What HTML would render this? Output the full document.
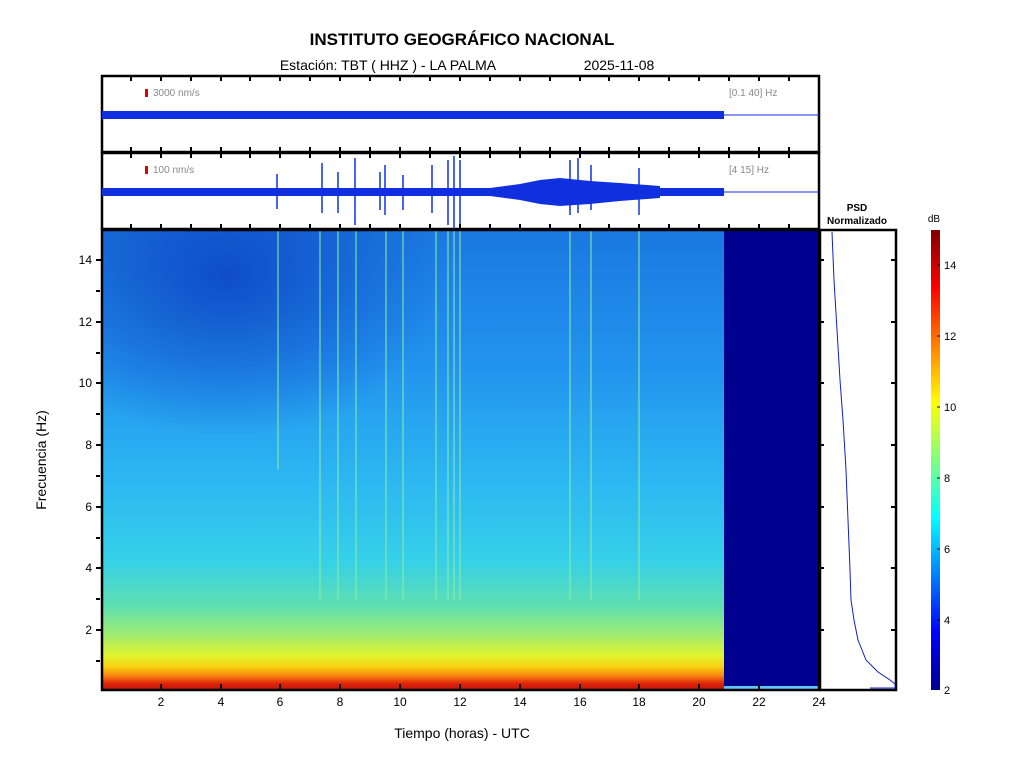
<!DOCTYPE html>
<html><head><meta charset="utf-8"><style>
html,body{margin:0;padding:0;background:#fff;}
svg{display:block;font-family:"Liberation Sans",sans-serif;}
</style></head><body>
<svg width="1024" height="768" viewBox="0 0 1024 768" xmlns="http://www.w3.org/2000/svg">
<defs>
<linearGradient id="sg" x1="0" y1="0" x2="0" y2="1">
<stop offset="0" stop-color="#1a78e0"/>
<stop offset="0.3" stop-color="#2294ee"/>
<stop offset="0.55" stop-color="#2cb8f2"/>
<stop offset="0.72" stop-color="#36d0e8"/>
<stop offset="0.82" stop-color="#60e0b0"/>
<stop offset="0.88" stop-color="#a0ec70"/>
<stop offset="0.925" stop-color="#e0f430"/>
<stop offset="0.95" stop-color="#f8d010"/>
<stop offset="0.97" stop-color="#f88010"/>
<stop offset="0.985" stop-color="#e02808"/>
<stop offset="1" stop-color="#c01010"/>
</linearGradient>
<radialGradient id="dk" cx="0.2" cy="0.1" r="0.35">
<stop offset="0" stop-color="#0c40c0" stop-opacity="0.8"/>
<stop offset="1" stop-color="#0c40c0" stop-opacity="0"/>
</radialGradient>
<linearGradient id="cb" x1="0" y1="1" x2="0" y2="0">
<stop offset="0" stop-color="#00008f"/>
<stop offset="0.125" stop-color="#0000ff"/>
<stop offset="0.375" stop-color="#00ffff"/>
<stop offset="0.625" stop-color="#ffff00"/>
<stop offset="0.875" stop-color="#ff0000"/>
<stop offset="1" stop-color="#800000"/>
</linearGradient>
</defs>

<text x="462" y="45" font-size="17" font-weight="bold" text-anchor="middle">INSTITUTO GEOGRÁFICO NACIONAL</text>
<text x="388" y="70" font-size="14" text-anchor="middle">Estación:  TBT ( HHZ ) - LA PALMA</text>
<text x="619" y="70" font-size="14" text-anchor="middle">2025-11-08</text>

<!-- panel 1 -->
<rect x="102" y="76" width="717" height="76" fill="#fff" stroke="#000" stroke-width="2.5"/>
<rect x="145" y="89" width="3" height="8" fill="#e00000"/>
<text x="153" y="96" font-size="10" fill="#888">3000 nm/s</text>
<text x="729" y="96" font-size="10" fill="#888">[0.1 40] Hz</text>
<rect x="102" y="111" width="622" height="8" fill="#1030e0"/>
<line x1="724" y1="115" x2="819" y2="115" stroke="#1030e0" stroke-width="1"/>

<!-- panel 2 -->
<rect x="102" y="153" width="717" height="76" fill="#fff" stroke="#000" stroke-width="2.5"/>
<rect x="145" y="166" width="3" height="8" fill="#e00000"/>
<text x="153" y="173" font-size="10" fill="#888">100 nm/s</text>
<text x="729" y="173" font-size="10" fill="#888">[4 15] Hz</text>
<rect x="102" y="188" width="622" height="8" fill="#1030e0"/>
<polygon points="490,188 520,184 540,180 560,178 590,181 620,183 660,186 660,198 620,201 590,204 560,206 540,204 520,200 490,196" fill="#1030e0"/>
<line x1="724" y1="192" x2="819" y2="192" stroke="#1030e0" stroke-width="1"/>
<g stroke="#1030e0" stroke-width="1.5">
<line x1="277" y1="174" x2="277" y2="209"/>
<line x1="322" y1="163" x2="322" y2="213"/>
<line x1="338" y1="172" x2="338" y2="213"/>
<line x1="355" y1="158" x2="355" y2="225"/>
<line x1="380" y1="172" x2="380" y2="210"/>
<line x1="385" y1="165" x2="385" y2="215"/>
<line x1="403" y1="175" x2="403" y2="210"/>
<line x1="432" y1="165" x2="432" y2="213"/>
<line x1="448" y1="160" x2="448" y2="225"/>
<line x1="454" y1="156" x2="454" y2="229"/>
<line x1="460" y1="160" x2="460" y2="225"/>
<line x1="570" y1="160" x2="570" y2="215"/>
<line x1="578" y1="158" x2="578" y2="213"/>
<line x1="591" y1="165" x2="591" y2="210"/>
<line x1="639" y1="168" x2="639" y2="215"/>
</g>

<!-- spectrogram -->
<rect x="102" y="230" width="622" height="460" fill="url(#sg)"/>
<rect x="102" y="230" width="622" height="460" fill="url(#dk)"/>
<g stroke="#90f0a0" stroke-width="2" opacity="0.5">
<line x1="278" y1="230" x2="278" y2="470"/>
<line x1="320" y1="230" x2="320" y2="600"/>
<line x1="338" y1="230" x2="338" y2="600"/>
<line x1="356" y1="230" x2="356" y2="600"/>
<line x1="386" y1="230" x2="386" y2="600"/>
<line x1="403" y1="230" x2="403" y2="600"/>
<line x1="436" y1="230" x2="436" y2="600"/>
<line x1="448" y1="230" x2="448" y2="600"/>
<line x1="454" y1="230" x2="454" y2="600"/>
<line x1="460" y1="230" x2="460" y2="600"/>
<line x1="570" y1="230" x2="570" y2="600"/>
<line x1="591" y1="230" x2="591" y2="600"/>
<line x1="639" y1="230" x2="639" y2="600"/>
</g>
<rect x="724" y="230" width="95" height="460" fill="#00008f"/>
<rect x="724" y="686" width="95" height="3" fill="#60c8ff"/>
<rect x="102" y="230" width="717" height="460" fill="none" stroke="#000" stroke-width="2.5"/>

<!-- ticks -->
<g stroke="#000" stroke-width="2">
<path d="M131,76v5M161,76v5M191,76v5M221,76v5M250,76v5M280,76v5M310,76v5M340,76v5M370,76v5M400,76v5M430,76v5M460,76v5M490,76v5M520,76v5M550,76v5M580,76v5M609,76v5M639,76v5M669,76v5M699,76v5M729,76v5M759,76v5M789,76v5"/>
<path d="M131,152v-5M161,152v-5M191,152v-5M221,152v-5M250,152v-5M280,152v-5M310,152v-5M340,152v-5M370,152v-5M400,152v-5M430,152v-5M460,152v-5M490,152v-5M520,152v-5M550,152v-5M580,152v-5M609,152v-5M639,152v-5M669,152v-5M699,152v-5M729,152v-5M759,152v-5M789,152v-5"/>
<path d="M131,153v5M161,153v5M191,153v5M221,153v5M250,153v5M280,153v5M310,153v5M340,153v5M370,153v5M400,153v5M430,153v5M460,153v5M490,153v5M520,153v5M550,153v5M580,153v5M609,153v5M639,153v5M669,153v5M699,153v5M729,153v5M759,153v5M789,153v5"/>
<path d="M131,229v-5M161,229v-5M191,229v-5M221,229v-5M250,229v-5M280,229v-5M310,229v-5M340,229v-5M370,229v-5M400,229v-5M430,229v-5M460,229v-5M490,229v-5M520,229v-5M550,229v-5M580,229v-5M609,229v-5M639,229v-5M669,229v-5M699,229v-5M729,229v-5M759,229v-5M789,229v-5"/>
<path d="M161,690v-6M221,690v-6M280,690v-6M340,690v-6M400,690v-6M460,690v-6M520,690v-6M580,690v-6M639,690v-6M699,690v-6M759,690v-6M819,690v-6"/>
<path d="M96,260h6M96,322h6M96,383h6M96,445h6M96,507h6M96,568h6M96,630h6M96,291h4M96,353h4M96,414h4M96,476h4M96,538h4M96,599h4M96,661h4"/>
<path d="M819,260h5M819,322h5M819,383h5M819,445h5M819,507h5M819,568h5M819,630h5M896,260h-5M896,322h-5M896,383h-5M896,445h-5M896,507h-5M896,568h-5M896,630h-5"/>
</g>
<g font-size="12" text-anchor="middle">
<text x="161" y="706">2</text><text x="221" y="706">4</text><text x="280" y="706">6</text><text x="340" y="706">8</text><text x="400" y="706">10</text><text x="460" y="706">12</text><text x="520" y="706">14</text><text x="580" y="706">16</text><text x="639" y="706">18</text><text x="699" y="706">20</text><text x="759" y="706">22</text><text x="819" y="706">24</text>
</g>
<g font-size="12" text-anchor="end">
<text x="92" y="264">14</text><text x="92" y="326">12</text><text x="92" y="387">10</text><text x="92" y="449">8</text><text x="92" y="511">6</text><text x="92" y="572">4</text><text x="92" y="634">2</text>
</g>
<text x="462" y="738" font-size="14" text-anchor="middle">Tiempo (horas) - UTC</text>
<text x="46" y="460" font-size="14" text-anchor="middle" transform="rotate(-90 46 460)">Frecuencia  (Hz)</text>

<!-- PSD -->
<text x="857" y="211" font-size="10" font-weight="bold" text-anchor="middle">PSD</text>
<text x="857" y="224" font-size="10" font-weight="bold" text-anchor="middle">Normalizado</text>
<rect x="820" y="230" width="76" height="460" fill="none" stroke="#000" stroke-width="2.5"/>
<polyline fill="none" stroke="#1020c0" stroke-width="1" points="832,232 834,280 837,330 840,380 843,420 846,470 848,520 850,570 851,600 854,620 858,640 866,660 878,672 890,680 895,684 895,688 870,688"/>

<!-- colorbar -->
<text x="934" y="222" font-size="10" text-anchor="middle">dB</text>
<rect x="931" y="230" width="9" height="460" fill="url(#cb)"/>
<g stroke="#000" stroke-width="1"><path d="M937,265h3M937,336h3M937,407h3M937,478h3M937,549h3M937,620h3"/></g>
<g font-size="11">
<text x="944" y="269">14</text><text x="944" y="340">12</text><text x="944" y="411">10</text><text x="944" y="482">8</text><text x="944" y="553">6</text><text x="944" y="624">4</text><text x="944" y="694">2</text>
</g>
</svg>
</body></html>
